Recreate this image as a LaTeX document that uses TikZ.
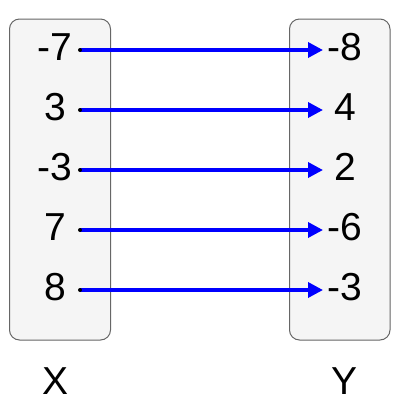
\documentclass[tikz,border=0pt]{standalone}
\usepackage{fontspec}
\setmainfont{Liberation Sans}
\usetikzlibrary{arrows.meta}
\definecolor{boxfill}{HTML}{F5F5F5}
\definecolor{boxline}{HTML}{666666}
\definecolor{mapblue}{HTML}{0000FF}
\tikzset{
	setbox/.style={draw=boxline, fill=boxfill, line width=1pt, rounded corners=10pt},
	num/.style={inner sep=0pt, anchor=base, font=\fontsize{39}{47}\selectfont},
	dot/.style={circle, fill=black, inner sep=0pt, minimum size=4pt},
	maparrow/.style={draw=mapblue, line width=3.5pt, -{Triangle[length=15pt, width=15pt]}}
}
\begin{document}
\begin{tikzpicture}[x=1pt, y=-1pt]
		\useasboundingbox (0,0) rectangle (400,400);

		\draw[setbox] (9.5,19) rectangle (110.5,340);
		\draw[setbox] (289.5,19) rectangle (390,340);

		\node[num] (x1) at (55,60) {-7};
		\node[num] (x2) at (55,120) {3};
		\node[num] (x3) at (55,180) {-3};
		\node[num] (x4) at (55,240) {7};
		\node[num] (x5) at (55,300) {8};

		\node[num] (y1) at (345,60) {-8};
		\node[num] (y2) at (345,120) {4};
		\node[num] (y3) at (345,180) {2};
		\node[num] (y4) at (345,240) {-6};
		\node[num] (y5) at (345,300) {-3};

		\coordinate (t1) at (323,50);
		\coordinate (t2) at (323,110);
		\coordinate (t3) at (323,170);
		\coordinate (t4) at (323,230);
		\coordinate (t5) at (323,290);

		\draw[maparrow] (80,50) node[dot] (d1) {} -- (t1);
		\draw[maparrow] (80,110) node[dot] (d2) {} -- (t2);
		\draw[maparrow] (80,170) node[dot] (d3) {} -- (t3);
		\draw[maparrow] (80,230) node[dot] (d4) {} -- (t4);
		\draw[maparrow] (80,290) node[dot] (d5) {} -- (t5);

		\node[num] (setx) at (56,394) {X};
		\node[num] (sety) at (345,394) {Y};
	\end{tikzpicture}
\end{document}
